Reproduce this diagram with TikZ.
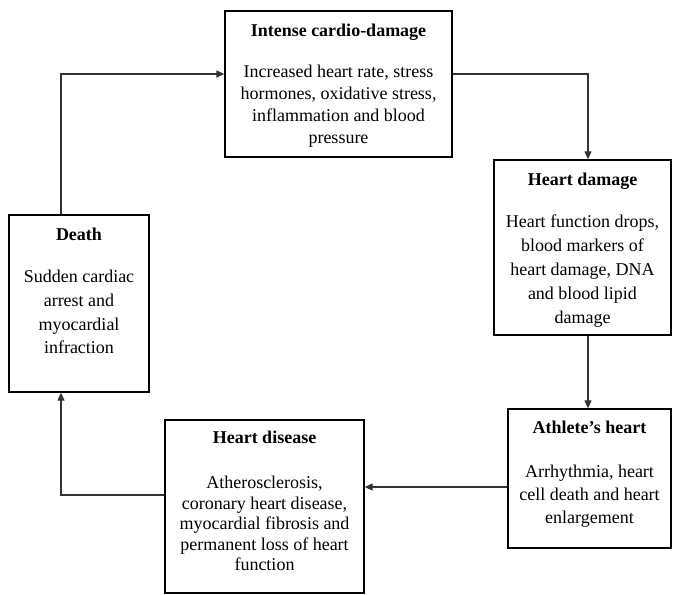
\documentclass[tikz,border=0pt]{standalone}
\usepackage{fontspec}
\setmainfont{Liberation Serif}
\usetikzlibrary{arrows.meta}
\begin{document}
\begin{tikzpicture}[x=1pt,y=-1pt,
  box/.style={draw=black,line width=1.3pt,inner sep=0pt,anchor=center},
  txt/.style={anchor=north,inner sep=0pt,align=center},
  conn/.style={draw=black!80,line width=1.1pt,-{Triangle[length=8pt,width=7pt]}}]
\useasboundingbox (0,0) rectangle (673,595);
% boxes
\node[box,minimum width=227pt,minimum height=146pt] (b1) at (338.5,84) {};
\node[box,minimum width=177pt,minimum height=175pt] (b2) at (582.5,247.5) {};
\node[box,minimum width=163pt,minimum height=139pt] (b3) at (589.5,478.5) {};
\node[box,minimum width=199pt,minimum height=173pt] (b4) at (264.5,506.5) {};
\node[box,minimum width=140pt,minimum height=177pt] (d) at (79,303.5) {};
% texts
\node[txt,font=\fontsize{18}{22}\selectfont] (t1) at (338.5,24) {\textbf{Intense cardio-damage}\\[19pt]Increased heart rate, stress\\hormones, oxidative stress,\\inflammation and blood\\pressure};
\node[txt,font=\fontsize{18}{24}\selectfont] (t2) at (582.5,173) {\textbf{Heart damage}\\[18pt]Heart function drops,\\blood markers of\\heart damage, DNA\\and blood lipid\\damage};
\node[txt,font=\fontsize{18}{23}\selectfont] (t3) at (589.5,421) {\textbf{Athlete’s heart}\\[21pt]Arrhythmia, heart\\cell death and heart\\enlargement};
\node[txt,font=\fontsize{18}{20.5}\selectfont] (t4) at (264.5,431) {\textbf{Heart disease}\\[24.5pt]Atherosclerosis,\\coronary heart disease,\\myocardial fibrosis and\\permanent loss of heart\\function};
\node[txt,font=\fontsize{18}{23.7}\selectfont] (t5) at (79,228) {\textbf{Death}\\[18.3pt]Sudden cardiac\\arrest and\\myocardial\\infraction};
% bend coordinates
\coordinate (k1) at (61,74);
\coordinate (k2) at (588,74);
\coordinate (k3) at (61,495);
\coordinate (k4) at (436,487);
% connectors
\draw[conn] (k1 |- d.north) -- (k1) -- (k1 -| b1.west);
\draw[conn] (k2 -| b1.east) -- (k2) -- (k2 |- b2.north);
\draw[conn] (k2 |- b2.south) -- (k2 |- b3.north);
\draw[conn] (k4 -| b3.west) -- (k4 -| b4.east);
\draw[conn] (k3 -| b4.west) -- (k3) -- (k3 |- d.south);
\end{tikzpicture}
\end{document}
